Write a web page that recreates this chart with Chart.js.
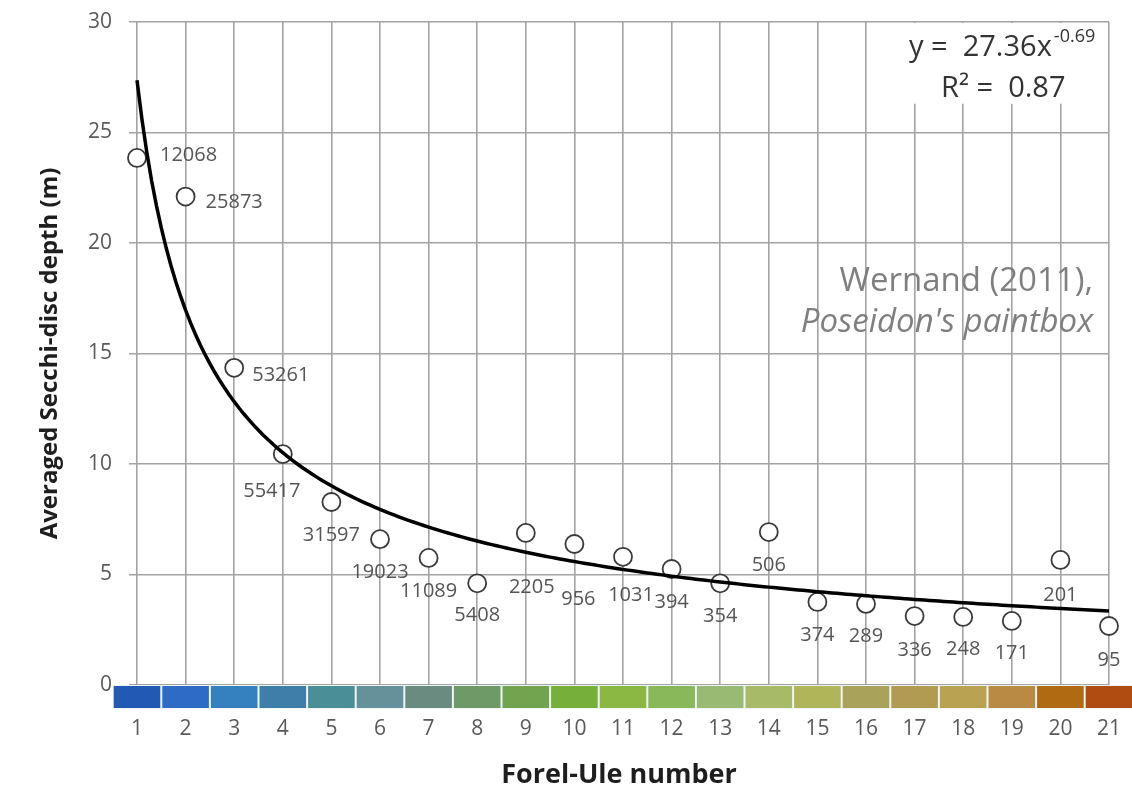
<!DOCTYPE html>
<html>
<head>
<meta charset="utf-8">
<title>Secchi depth vs Forel-Ule</title>
<script src="https://cdn.jsdelivr.net/npm/chart.js@4.4.0/dist/chart.umd.min.js"></script>
<style>
    html, body { margin: 0; padding: 0; background: #fff; }
    #wrap { width: 1132px; height: 794px; }
</style>
</head>
<body>
<div id="wrap"><canvas id="secchi-chart" width="1132" height="794"></canvas></div>
<script>
// Forel-Ule classes and the averaged Secchi depth (m) per class
const foreleUle = [1, 2, 3, 4, 5, 6, 7, 8, 9, 10, 11, 12, 13, 14, 15, 16, 17, 18, 19, 20, 21];
const secchiDepth = [23.85, 22.1, 14.35, 10.45, 8.28, 6.6, 5.75, 4.6, 6.88, 6.38, 5.8, 5.25, 4.6, 6.92, 3.76, 3.67, 3.12, 3.08, 2.9, 5.66, 2.67];
// number of observations behind each average
const observations = [12068, 25873, 53261, 55417, 31597, 19023, 11089, 5408, 2205, 956, 1031, 394, 354, 506, 374, 289, 336, 248, 171, 201, 95];
const yTickValues = [0, 5, 10, 15, 20, 25, 30];

// power-law fit: y = a * x^b
const fitCoef = 27.36;
const fitExp = -0.69;
const fitR2 = 0.87;

// colour of each Forel-Ule class for the scale bar
const fuColours = [
    '#2159b4', '#2e6bc6', '#3580bf', '#3f7ea6', '#4a8f98', '#65919a', '#698b80',
    '#6e9a68', '#72a34e', '#77b038', '#8bb842', '#88b85a', '#98ba72', '#a6ba68',
    '#b0b55a', '#a9a25a', '#b19a52', '#b9a252', '#b98a44', '#b06a12', '#b04c12'
];

// label placement next to each circle (dx, dy in px; align)
const labelDx = [23, 20, 18, -11, 0, 0, 0, 0, 6, 4, 8, 0, 0, 0, 0, 0, 0, 0, 0, 0, 0];
const labelDy = [-3, 6, 7, 37, 33, 33, 33, 32, 54, 55, 38, 33, 33, 33, 33, 32, 34, 32, 32, 35, 34];
const labelAlign = ['left', 'left', 'left'];

const fitPoints = [];
for (let i = 0; i <= 200; i++) {
    const xv = 1 + i * 0.1;
    fitPoints.push({ x: xv, y: fitCoef * Math.pow(xv, fitExp) });
}

const FONT = 'Open Sans';

// no extra room around the plot for edge tick labels
function noScalePadding(s) {
    s.paddingTop = 0;
    s.paddingBottom = 0;
    s.paddingLeft = 0;
    s.paddingRight = 0;
}

// scale bar of FU colours, counts, fit equation and source note
const colourBar = {
    id: 'colourBar',
    beforeDatasetsDraw(chart) {
        const { ctx, scales: { x, y } } = chart;
        // white patch behind the fit equation
        const bl = x.getPixelForValue(16) + 7;
        const br = x.getPixelForValue(21) - 1;
        const bt = chart.chartArea.top + 1;
        const bb = y.getPixelForValue(26.3);
        ctx.save();
        ctx.fillStyle = '#ffffff';
        ctx.fillRect(bl, bt, br - bl, bb - bt);
        ctx.restore();
    },
    afterDatasetsDraw(chart) {
        const { ctx, scales: { x, y } } = chart;
        const top = y.getPixelForValue(0);
        ctx.save();
        ctx.fillStyle = '#eef6f8';
        ctx.fillRect(x.getPixelForValue(0.5), top, x.getPixelForValue(21.5) - x.getPixelForValue(0.5), 24);
        fuColours.forEach((c, i) => {
            const l = x.getPixelForValue(foreleUle[i] - 0.5);
            const r = x.getPixelForValue(foreleUle[i] + 0.5);
            ctx.fillStyle = c;
            ctx.fillRect(l + 1, top + 1, r - l - 2, 22);
        });

        // observation counts
        const meta = chart.getDatasetMeta(1);
        ctx.font = `20px "${FONT}"`;
        ctx.fillStyle = '#555555';
        ctx.textBaseline = 'middle';
        meta.data.forEach((pt, i) => {
            ctx.textAlign = labelAlign[i] || 'center';
            ctx.fillText(String(observations[i]), pt.x + labelDx[i], pt.y + labelDy[i]);
        });

        // fit equation
        ctx.fillStyle = '#333333';
        ctx.textBaseline = 'alphabetic';
        ctx.textAlign = 'left';
        ctx.font = `29px "${FONT}"`;
        const eq = `y =  ${fitCoef.toFixed(2)}x`;
        ctx.fillText(eq, 909, 56);
        const eqW = ctx.measureText(eq).width;
        ctx.font = `18px "${FONT}"`;
        ctx.fillText(`-${Math.abs(fitExp).toFixed(2)}`, 909 + eqW + 2, 42);
        ctx.font = `29px "${FONT}"`;
        ctx.fillText(`R\u00b2 =  ${fitR2.toFixed(2)}`, 941, 97);

        // source note
        ctx.fillStyle = '#7f7f7f';
        ctx.textAlign = 'right';
        ctx.font = `33px "${FONT}"`;
        ctx.fillText('Wernand (2011),', 1093, 291);
        ctx.font = `italic 33px "${FONT}"`;
        ctx.fillText("Poseidon's paintbox", 1093, 332);
        ctx.restore();
    }
};

const ctx = document.getElementById('secchi-chart').getContext('2d');
new Chart(ctx, {
    type: 'scatter',
    data: {
        datasets: [
            {
                data: fitPoints,
                showLine: true,
                borderColor: '#000000',
                borderWidth: 3.5,
                pointRadius: 0,
                tension: 0,
                clip: false
            },
            {
                data: foreleUle.map((v, i) => ({ x: v, y: secchiDepth[i] })),
                pointRadius: 9,
                pointBorderWidth: 1.8,
                borderColor: '#3a3a3a',
                backgroundColor: '#ffffff',
                clip: false
            }
        ]
    },
    options: {
        responsive: false,
        animation: false,
        events: [],
        layout: { autoPadding: false, padding: { top: 22, right: 23, left: 0, bottom: 0 } },
        plugins: {
            legend: { display: false },
            tooltip: { enabled: false }
        },
        scales: {
            x: {
                type: 'linear',
                min: 0.8354,
                max: 21,
                afterBuildTicks: s => { s.ticks = foreleUle.map(v => ({ value: v })); },
                afterFit: s => { s.height = 109; noScalePadding(s); },
                grid: { color: '#a3a3a3', lineWidth: 1.6, drawTicks: false },
                border: { display: false },
                ticks: {
                    padding: 31,
                    color: '#595959',
                    maxRotation: 0,
                    autoSkip: false,
                    font: { family: FONT, size: 21 },
                    callback: v => String(v)
                },
                title: {
                    display: true,
                    text: 'Forel-Ule number',
                    color: '#1e1e1e',
                    font: { family: FONT, size: 27, weight: 'bold' },
                    padding: { top: 0, bottom: 2 }
                }
            },
            y: {
                min: 0,
                max: 30,
                afterBuildTicks: s => { s.ticks = yTickValues.map(v => ({ value: v })); },
                afterFit: s => { s.width = 129; noScalePadding(s); },
                grid: { color: '#a3a3a3', lineWidth: 1.6, drawTicks: false },
                border: { display: false },
                ticks: {
                    padding: 17,
                    color: '#595959',
                    font: { family: FONT, size: 21 }
                },
                title: {
                    display: true,
                    text: 'Averaged Secchi-disc depth (m)',
                    color: '#1e1e1e',
                    font: { family: FONT, size: 24, weight: 'bold' },
                    padding: { top: 36, bottom: 0 }
                }
            }
        }
    },
    plugins: [colourBar]
});
</script>
</body>
</html>
